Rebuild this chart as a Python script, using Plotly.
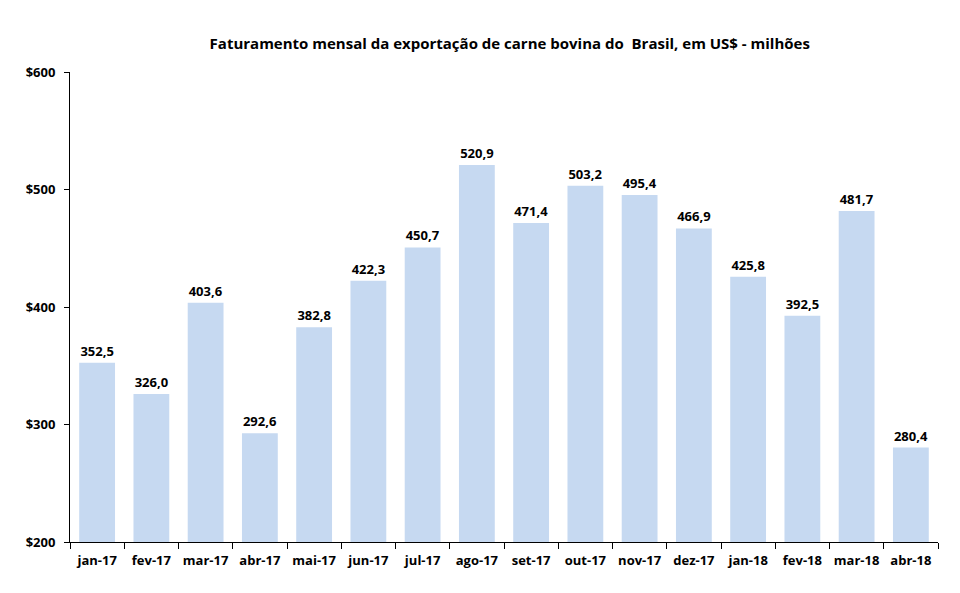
import plotly.graph_objects as go

months = ["jan-17", "fev-17", "mar-17", "abr-17", "mai-17", "jun-17", "jul-17", "ago-17",
          "set-17", "out-17", "nov-17", "dez-17", "jan-18", "fev-18", "mar-18", "abr-18"]
values = [352.5, 326.0, 403.6, 292.6, 382.8, 422.3, 450.7, 520.9,
          471.4, 503.2, 495.4, 466.9, 425.8, 392.5, 481.7, 280.4]
y_ticks = [200, 300, 400, 500, 600]
y_tick_labels = ["&#36;" + str(v) for v in y_ticks]
title = "Faturamento mensal da exportação de carne bovina do  Brasil, em US$ - milhões"

FONT = "Open Sans"

fig = go.Figure(go.Bar(
    x=months, y=values,
    marker=dict(color="#C6D9F1", line=dict(width=0)),
    texttemplate="%{y:.1f}", textposition="outside",
    textfont=dict(family=FONT, size=13, color="#000000", weight="bold"),
    cliponaxis=False,
))

fig.update_layout(
    width=960, height=593,
    paper_bgcolor="white", plot_bgcolor="white",
    separators=",.",
    margin=dict(l=70, r=22, t=72, b=51),
    bargap=0.34,
    showlegend=False,
    title=dict(text="<b>" + title + "</b>", x=0.531, xanchor="center", y=0.927, yanchor="middle",
               font=dict(family=FONT, size=15, color="#000000")),
    font=dict(family=FONT, color="#000000"),
)
fig.update_xaxes(
    showline=True, linecolor="#000000", linewidth=1,
    ticks="outside", tickson="boundaries", ticklen=6, tickcolor="#000000",
    tickangle=0, automargin=False, ticklabelstandoff=6,
    tickfont=dict(family=FONT, size=13, color="#000000", weight="bold"),
    showgrid=False,
)
fig.update_yaxes(
    range=[200, 600], tickvals=y_ticks, ticktext=y_tick_labels,
    showline=True, linecolor="#000000", linewidth=1,
    ticks="outside", ticklen=5, tickcolor="#000000", ticklabelstandoff=6,
    automargin=False,
    tickfont=dict(family=FONT, size=13, color="#000000", weight="bold"),
    showgrid=False, zeroline=False,
)

fig.write_html("out.html")
